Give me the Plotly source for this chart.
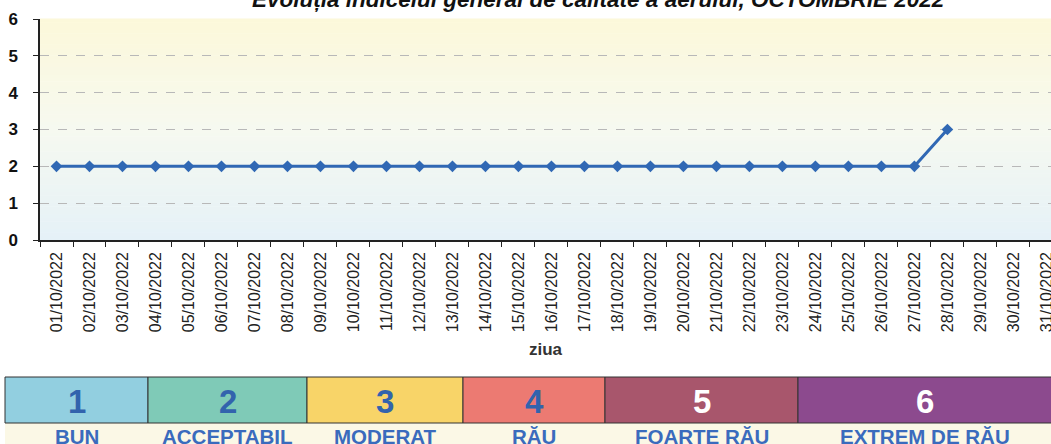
import plotly.graph_objects as go

# ---- data ----
days = ["01/10/2022", "02/10/2022", "03/10/2022", "04/10/2022", "05/10/2022",
        "06/10/2022", "07/10/2022", "08/10/2022", "09/10/2022", "10/10/2022",
        "11/10/2022", "12/10/2022", "13/10/2022", "14/10/2022", "15/10/2022",
        "16/10/2022", "17/10/2022", "18/10/2022", "19/10/2022", "20/10/2022",
        "21/10/2022", "22/10/2022", "23/10/2022", "24/10/2022", "25/10/2022",
        "26/10/2022", "27/10/2022", "28/10/2022", "29/10/2022", "30/10/2022",
        "31/10/2022"]
index_values = [2, 2, 2, 2, 2, 2, 2, 2, 2, 2,
                2, 2, 2, 2, 2, 2, 2, 2, 2, 2,
                2, 2, 2, 2, 2, 2, 2, 3, None, None, None]
y_ticks = [0, 1, 2, 3, 4, 5, 6]
scale_numbers = ["1", "2", "3", "4", "5", "6"]
scale_labels = ["BUN", "ACCEPTABIL", "MODERAT", "RĂU", "FOARTE RĂU", "EXTREM DE RĂU"]
title_text = "Evoluția indicelui general de calitate a aerului, OCTOMBRIE 2022"
x_title = "ziua"

# ---- layout constants ----
W, H = 1051, 444
ML, MR, MT, MB = 40, 0, 19, 204
PW = W - ML - MR
PH = H - MT - MB
FONT = "Liberation Sans, Arial, sans-serif"

def px(x):
    return (x - ML) / PW

def py(y):
    return (H - MB - y) / PH

scale_edges = [5, 148, 307, 463, 605, 798, 1053]
scale_colors = ["#92cfe0", "#7fcab7", "#f8d468", "#ec7a72", "#a8566c", "#8c4a8e"]
num_colors = ["#3263ad", "#3263ad", "#3263ad", "#3263ad", "#ffffff", "#ffffff"]

fig = go.Figure()
fig.add_trace(go.Scatter(
    x=days, y=index_values, mode="lines+markers",
    line=dict(color="#3068b4", width=3),
    marker=dict(symbol="diamond", size=9, color="#3068b4"),
    connectgaps=False, showlegend=False, cliponaxis=False,
))

shapes = []
# gradient background for the plot area
top = (252, 248, 218)
mid = (246, 249, 240)
bot = (229, 241, 247)
n = 60
for i in range(n):
    t = i / (n - 1)
    if t < 0.5:
        a, b, u = bot, mid, t / 0.5
    else:
        a, b, u = mid, top, (t - 0.5) / 0.5
    c = tuple(int(round(a[k] + (b[k] - a[k]) * u)) for k in range(3))
    shapes.append(dict(type="rect", xref="paper", yref="paper",
                       x0=0, x1=1.01, y0=i / n, y1=(i + 1) / n + 0.002,
                       fillcolor="rgb(%d,%d,%d)" % c, line=dict(width=0),
                       layer="below"))

# scale strip
strip_top, strip_mid, strip_bot = 377, 423, 446
shapes.append(dict(type="rect", xref="paper", yref="paper",
                   x0=px(scale_edges[0]), x1=px(W + 2), y0=py(strip_bot), y1=py(strip_mid),
                   fillcolor="#fbf8e6", line=dict(width=0)))
annotations = []
for i in range(6):
    shapes.append(dict(type="rect", xref="paper", yref="paper",
                       x0=px(scale_edges[i]), x1=px(scale_edges[i + 1]),
                       y0=py(strip_mid), y1=py(strip_top),
                       fillcolor=scale_colors[i], line=dict(color="#333333", width=1)))
    cx = px((scale_edges[i] + min(scale_edges[i + 1], W)) / 2)
    annotations.append(dict(x=cx, y=py(401), xref="paper", yref="paper",
                            xanchor="center", yanchor="middle",
                            text="<b>%s</b>" % scale_numbers[i], showarrow=False,
                            font=dict(family=FONT, size=33, color=num_colors[i])))
    annotations.append(dict(x=cx, y=py(436.5), xref="paper", yref="paper",
                            xanchor="center", yanchor="middle",
                            text="<b>%s</b>" % scale_labels[i], showarrow=False,
                            font=dict(family=FONT, size=20.5, color="#3a6bbd")))

# clipped title (only its lower part is visible, as in the reference)
annotations.append(dict(x=px(598), y=1, xref="paper", yref="paper",
                        xanchor="center", yanchor="bottom", yshift=5,
                        text="<b><i>%s</i></b>" % title_text, showarrow=False,
                        font=dict(family=FONT, size=22.5, color="#111111")))
# x-axis title
annotations.append(dict(x=px(546), y=py(349), xref="paper", yref="paper",
                        xanchor="center", yanchor="middle",
                        text="<b>%s</b>" % x_title, showarrow=False,
                        font=dict(family=FONT, size=17, color="#333333")))

fig.update_layout(
    width=W, height=H,
    margin=dict(l=ML, r=MR, t=MT, b=MB, autoexpand=False),
    paper_bgcolor="#ffffff", plot_bgcolor="rgba(0,0,0,0)",
    shapes=shapes, annotations=annotations, showlegend=False,
)
fig.update_xaxes(
    type="category", range=[-0.5, 30.14], tickangle=-90,
    tickson="boundaries", ticks="outside", ticklen=5, tickcolor="#222222",
    showline=True, linecolor="#222222", linewidth=1.5, showgrid=False,
    tickfont=dict(family=FONT, size=16, color="#222222"),
    ticklabelstandoff=4, automargin=False, fixedrange=True,
)
fig.update_yaxes(
    range=[0, 6], tickvals=y_ticks, ticktext=["<b>%d</b>" % v for v in y_ticks],
    ticks="outside", ticklen=5, tickcolor="#222222",
    showline=True, linecolor="#222222", linewidth=1.5,
    showgrid=True, gridcolor="#b8b8b8", griddash="dash", gridwidth=1,
    zeroline=False, ticklabelstandoff=12, automargin=False,
    tickfont=dict(family=FONT, size=17, color="#111111"), fixedrange=True,
)

fig.write_html("out.html", config={"displayModeBar": False},
               post_script="document.body.style.margin='0';")
